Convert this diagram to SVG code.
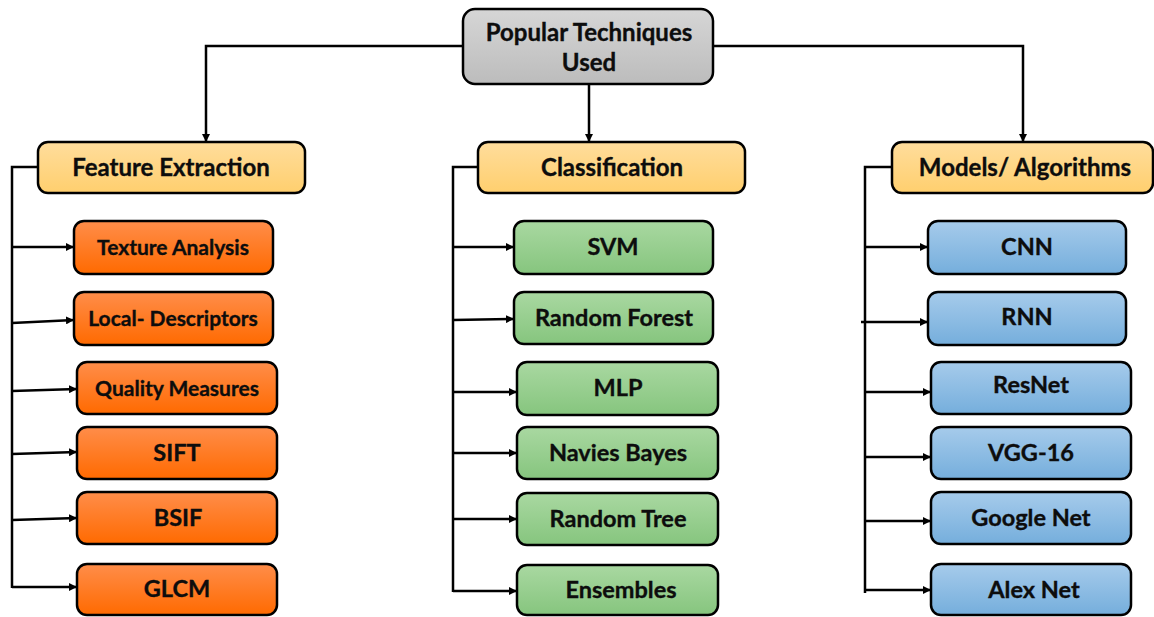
<svg xmlns="http://www.w3.org/2000/svg" width="1154" height="617" viewBox="0 0 1154 617">
  <defs>
    <linearGradient id="gGray" x1="0" y1="0" x2="0" y2="1">
      <stop offset="0" stop-color="#d6d6d6"/>
      <stop offset="1" stop-color="#bcbcbc"/>
    </linearGradient>
    <linearGradient id="gYellow" x1="0" y1="0" x2="0" y2="1">
      <stop offset="0" stop-color="#ffdd9c"/>
      <stop offset="1" stop-color="#ffcf6e"/>
    </linearGradient>
    <linearGradient id="gOrange" x1="0" y1="0" x2="0" y2="1">
      <stop offset="0" stop-color="#ff8d4a"/>
      <stop offset="1" stop-color="#ff6a00"/>
    </linearGradient>
    <linearGradient id="gGreen" x1="0" y1="0" x2="0" y2="1">
      <stop offset="0" stop-color="#a9d8a1"/>
      <stop offset="1" stop-color="#86c57e"/>
    </linearGradient>
    <linearGradient id="gBlue" x1="0" y1="0" x2="0" y2="1">
      <stop offset="0" stop-color="#a6cbeb"/>
      <stop offset="1" stop-color="#75aedc"/>
    </linearGradient>
    <marker id="arrow" viewBox="0 0 10 10" refX="10" refY="5" markerWidth="8" markerHeight="8" markerUnits="userSpaceOnUse" orient="auto">
      <path d="M0,0 L10,5 L0,10 Z" fill="#000"/>
    </marker>
  </defs>
  <style>
    .box { stroke: #000; stroke-width: 2.5; }
    .root { fill: url(#gGray); }
    .head { fill: url(#gYellow); }
    .fe { fill: url(#gOrange); }
    .cl { fill: url(#gGreen); }
    .ma { fill: url(#gBlue); }
    text { font-family: Lato, "Open Sans", "Liberation Sans", sans-serif; font-weight: 700; fill: #0d0d0d; text-anchor: middle; stroke: #0d0d0d; stroke-width: 0.35; }
    .t-root { font-size: 24px; }
    .t-head { font-size: 24px; }
    .t-sm { font-size: 21px; }
    .t-lg { font-size: 23.5px; }
    .wire { fill: none; stroke: #000; stroke-width: 2.5; }
    .arr { fill: none; stroke: #000; stroke-width: 2.5; marker-end: url(#arrow); }
  </style>

  <rect width="1154" height="617" fill="#fff"/>

  <!-- connectors -->
  <g id="connectors">
    <!-- root to the three categories -->
    <path class="arr" d="M463,46 H206 V142"/>
    <path class="arr" d="M713,46 H1023 V142"/>
    <path class="arr" d="M589,84 V142"/>

    <!-- Feature Extraction branch -->
    <path class="wire" d="M38,167 H12 V588"/>
    <path class="arr" d="M12,247 L74,247"/>
    <path class="arr" d="M12,323 L74,320"/>
    <path class="arr" d="M12,391 L77,389"/>
    <path class="arr" d="M12,454 L77,452"/>
    <path class="arr" d="M12,520 L77,518"/>
    <path class="arr" d="M12,587 L77,587"/>

    <!-- Classification branch -->
    <path class="wire" d="M478,167 H453 V592"/>
    <path class="arr" d="M453,247 L514,247"/>
    <path class="arr" d="M453,320 L514,319"/>
    <path class="arr" d="M453,392 L517,392"/>
    <path class="arr" d="M453,453 L517,453"/>
    <path class="arr" d="M453,519 L517,519"/>
    <path class="arr" d="M453,591 L517,591"/>

    <!-- Models / Algorithms branch -->
    <path class="wire" d="M892,167 H865 V593"/>
    <path class="arr" d="M865,247 L928,247"/>
    <path class="arr" d="M861,322 L928,322"/>
    <path class="arr" d="M865,392 L931,392"/>
    <path class="arr" d="M865,457 L931,457"/>
    <path class="arr" d="M865,521 L931,521"/>
    <path class="arr" d="M865,590 L931,590"/>
  </g>

  <!-- root -->
  <g id="node-root">
    <rect class="box root" x="463" y="9" width="250" height="75" rx="12"/>
    <text class="t-root" x="589" y="41">Popular Techniques</text>
    <text class="t-root" x="589" y="71">Used</text>
  </g>

  <!-- category headers -->
  <g id="node-feature-extraction">
    <rect class="box head" x="38" y="142" width="267" height="51" rx="10"/>
    <text class="t-head" x="171" y="176">Feature Extraction</text>
  </g>
  <g id="node-classification">
    <rect class="box head" x="478" y="142" width="267" height="51" rx="10"/>
    <text class="t-head" x="612" y="176">Classification</text>
  </g>
  <g id="node-models">
    <rect class="box head" x="892" y="142" width="261" height="51" rx="10"/>
    <text class="t-head" x="1025" y="176">Models/ Algorithms</text>
  </g>

  <!-- Feature Extraction items -->
  <g id="node-texture-analysis">
    <rect class="box fe" x="74" y="221" width="199" height="53" rx="10"/>
    <text class="t-sm" x="173" y="255">Texture Analysis</text>
  </g>
  <g id="node-local-descriptors">
    <rect class="box fe" x="74" y="292" width="199" height="53" rx="10"/>
    <text class="t-sm" x="173" y="326">Local- Descriptors</text>
  </g>
  <g id="node-quality-measures">
    <rect class="box fe" x="77" y="362" width="200" height="52" rx="10"/>
    <text class="t-sm" x="177" y="396">Quality Measures</text>
  </g>
  <g id="node-sift">
    <rect class="box fe" x="77" y="427" width="200" height="52" rx="10"/>
    <text class="t-lg" x="177" y="461">SIFT</text>
  </g>
  <g id="node-bsif">
    <rect class="box fe" x="77" y="492" width="200" height="52" rx="10"/>
    <text class="t-lg" x="178" y="526">BSIF</text>
  </g>
  <g id="node-glcm">
    <rect class="box fe" x="77" y="564" width="200" height="51" rx="10"/>
    <text class="t-lg" x="177" y="597">GLCM</text>
  </g>

  <!-- Classification items -->
  <g id="node-svm">
    <rect class="box cl" x="514" y="221" width="199" height="53" rx="10"/>
    <text class="t-lg" x="613" y="255">SVM</text>
  </g>
  <g id="node-random-forest">
    <rect class="box cl" x="514" y="292" width="199" height="52" rx="10"/>
    <text class="t-lg" x="614" y="326">Random Forest</text>
  </g>
  <g id="node-mlp">
    <rect class="box cl" x="517" y="362" width="201" height="53" rx="10"/>
    <text class="t-lg" x="618" y="396">MLP</text>
  </g>
  <g id="node-navies-bayes">
    <rect class="box cl" x="517" y="427" width="201" height="52" rx="10"/>
    <text class="t-lg" x="618" y="461">Navies Bayes</text>
  </g>
  <g id="node-random-tree">
    <rect class="box cl" x="517" y="493" width="201" height="52" rx="10"/>
    <text class="t-lg" x="618" y="527">Random Tree</text>
  </g>
  <g id="node-ensembles">
    <rect class="box cl" x="517" y="565" width="201" height="50" rx="10"/>
    <text class="t-lg" x="621" y="598">Ensembles</text>
  </g>

  <!-- Models / Algorithms items -->
  <g id="node-cnn">
    <rect class="box ma" x="928" y="221" width="198" height="53" rx="10"/>
    <text class="t-lg" x="1027" y="255">CNN</text>
  </g>
  <g id="node-rnn">
    <rect class="box ma" x="928" y="292" width="198" height="53" rx="10"/>
    <text class="t-lg" x="1027" y="325">RNN</text>
  </g>
  <g id="node-resnet">
    <rect class="box ma" x="931" y="362" width="200" height="52" rx="10"/>
    <text class="t-lg" x="1031" y="393">ResNet</text>
  </g>
  <g id="node-vgg16">
    <rect class="box ma" x="931" y="427" width="200" height="52" rx="10"/>
    <text class="t-lg" x="1031" y="461">VGG-16</text>
  </g>
  <g id="node-googlenet">
    <rect class="box ma" x="931" y="492" width="200" height="52" rx="10"/>
    <text class="t-lg" x="1031" y="526">Google Net</text>
  </g>
  <g id="node-alexnet">
    <rect class="box ma" x="931" y="564" width="200" height="51" rx="10"/>
    <text class="t-lg" x="1034" y="598">Alex Net</text>
  </g>
</svg>
